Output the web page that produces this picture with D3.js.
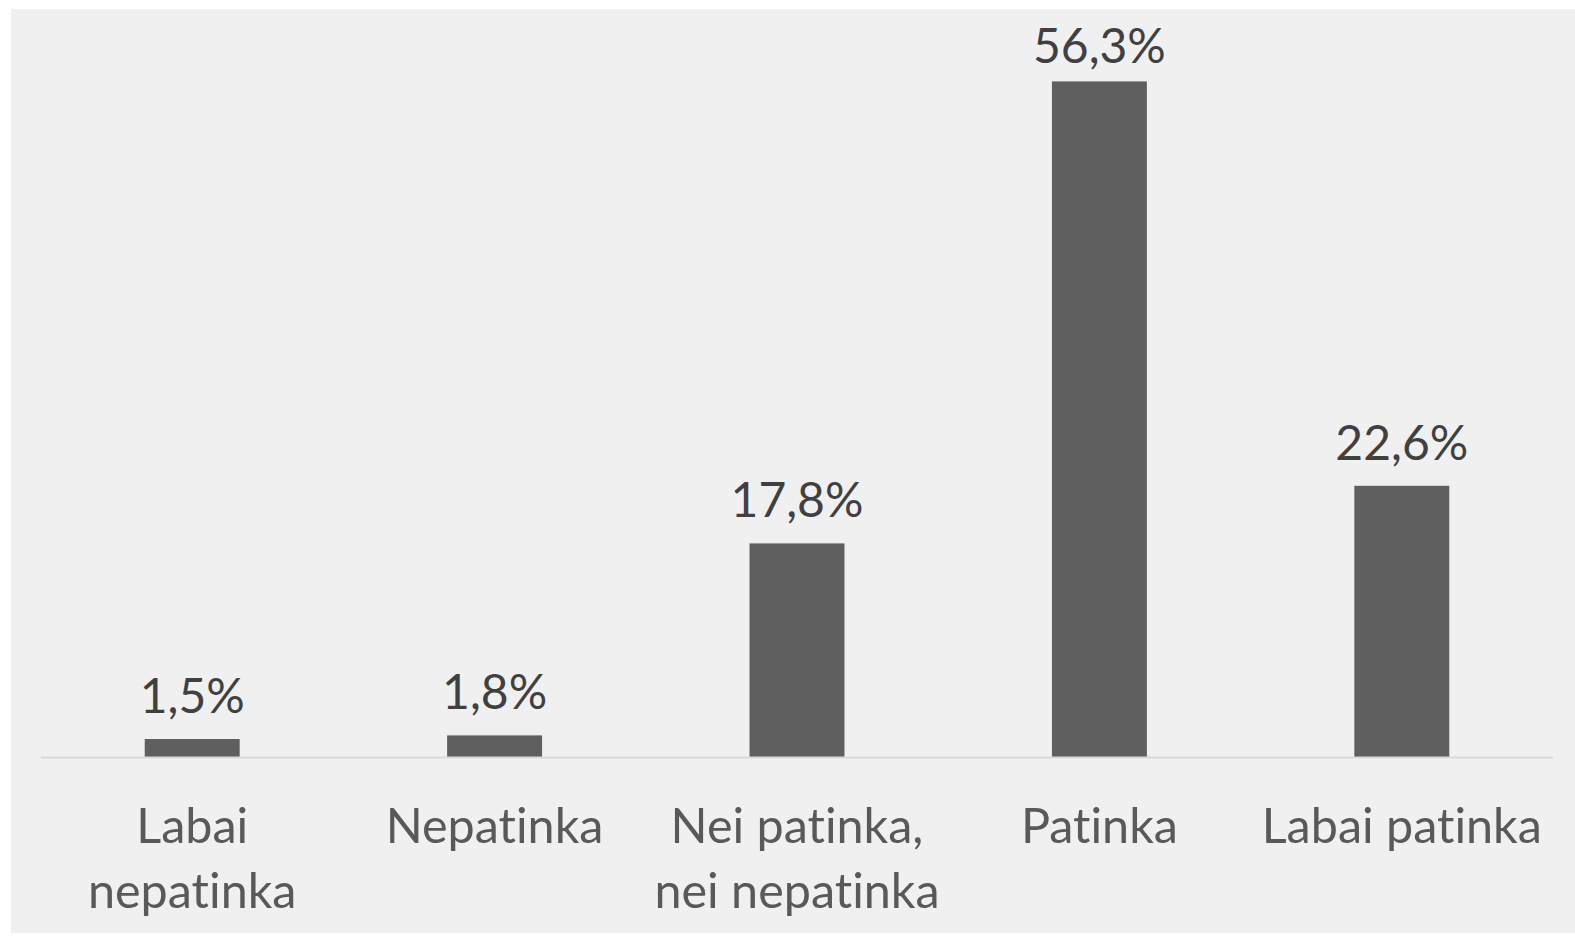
<!DOCTYPE html>
<html>
<head>
<meta charset="utf-8">
<script src="https://cdn.jsdelivr.net/npm/d3@7"></script>
<style>
  body { margin: 0; background: #fff; }
  svg { display: block; }
  text { font-family: Lato, "Open Sans", sans-serif; font-variant-ligatures: none; }
</style>
</head>
<body>
<div id="chart"></div>
<script>
const categories = ['Labai nepatinka', 'Nepatinka', 'Nei patinka, nei nepatinka', 'Patinka', 'Labai patinka'];
const labelLines = [['Labai', 'nepatinka'], ['Nepatinka'], ['Nei patinka,', 'nei nepatinka'], ['Patinka'], ['Labai patinka']];
const values = [1.5, 1.8, 17.8, 56.3, 22.6];

const width = 1575;
const height = 937;
const margin = { top: 37, right: 22, bottom: 180, left: 41 };

const svg = d3.select('#chart')
    .append('svg')
    .attr('width', width)
    .attr('height', height);

// chart panel
svg.append('rect')
    .attr('x', 11)
    .attr('y', 9)
    .attr('width', width - 11)
    .attr('height', 924)
    .attr('fill', '#f0f0f0');

const xScale = d3.scaleBand()
    .domain(categories)
    .range([margin.left, width - margin.right])
    .paddingInner(0.686)
    .paddingOuter(0.343);

const yScale = d3.scaleLinear()
    .domain([0, 60])
    .range([height - margin.bottom, margin.top]);

const fmt = v => d3.format('.1f')(v).replace('.', ',') + '%';

svg.append('g')
    .selectAll('rect')
    .data(values)
    .join('rect')
    .attr('x', (d, i) => xScale(categories[i]))
    .attr('y', d => yScale(d))
    .attr('width', xScale.bandwidth())
    .attr('height', d => yScale(0) - yScale(d))
    .attr('fill', '#5f5f5f');

// baseline
svg.append('line')
    .attr('x1', margin.left)
    .attr('x2', width - margin.right)
    .attr('y1', yScale(0) + 0.5)
    .attr('y2', yScale(0) + 0.5)
    .attr('stroke', '#d9d9d9')
    .attr('stroke-width', 2);

// value labels (kept inside the plot area at the top)
svg.append('g')
    .selectAll('text')
    .data(values)
    .join('text')
    .attr('x', (d, i) => xScale(categories[i]) + xScale.bandwidth() / 2)
    .attr('y', d => Math.max(yScale(d) - 26, 63))
    .attr('text-anchor', 'middle')
    .attr('font-size', 48)
    .attr('fill', '#404040')
    .text(d => fmt(d));

// category labels
const cats = svg.append('g')
    .selectAll('text')
    .data(categories)
    .join('text')
    .attr('x', d => xScale(d) + xScale.bandwidth() / 2)
    .attr('y', yScale(0) + 86)
    .attr('text-anchor', 'middle')
    .attr('font-size', 48.5)
    .attr('fill', '#595959');

cats.selectAll('tspan')
    .data((d, i) => labelLines[i])
    .join('tspan')
    .attr('x', function () { return d3.select(this.parentNode).attr('x'); })
    .attr('dy', (d, i) => i === 0 ? 0 : 65)
    .text(d => d);
</script>
</body>
</html>
